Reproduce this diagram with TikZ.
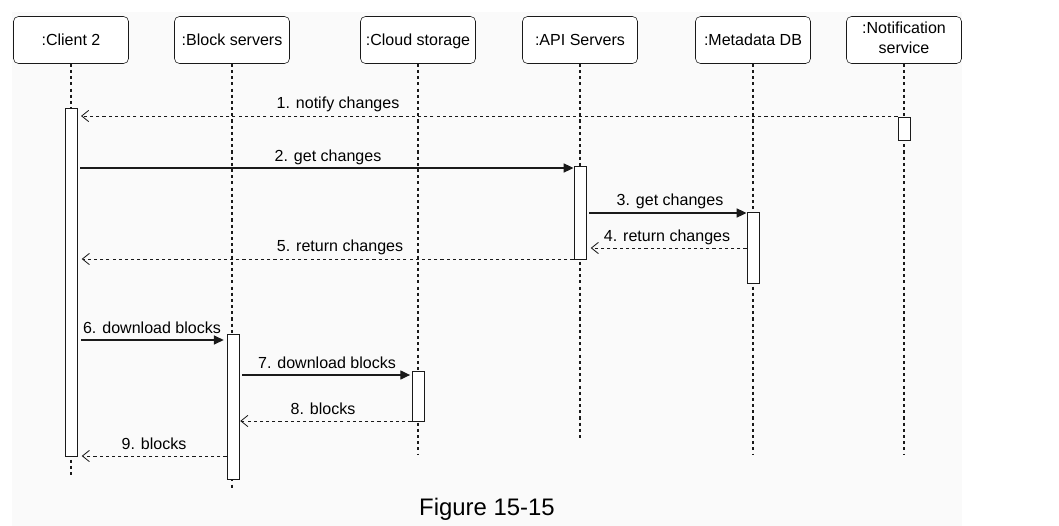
\documentclass[tikz,border=0pt]{standalone}
\usepackage{fontspec}
\setmainfont{Liberation Sans}
\usepackage{tikz}
\usetikzlibrary{positioning,arrows.meta}
\definecolor{cInk}{HTML}{1A1A1A}
\definecolor{cGrey}{HTML}{555555}
\definecolor{cBg}{HTML}{FAFAFA}
\newcommand{\capstrut}{\rule[-2.64pt]{0pt}{13.44pt}}
\tikzset{
  obj/.style={draw=cInk, rounded corners=3.5pt, fill=white, align=center,
              minimum width=2.875cm, minimum height=1.175cm, inner sep=2pt,
              font=\fontsize{11.4}{14.2}\selectfont,
              execute at begin node=\capstrut, execute at end node=\capstrut},
  bar/.style={draw=cInk, fill=white, line width=0.7pt, minimum width=0.3cm,
              inner sep=0pt, anchor=north},
  life/.style={cInk, line width=0.8pt, dash pattern=on 2.2pt off 2.2pt},
  call/.style={-{Triangle[length=7pt, width=6.5pt]}, cInk, line width=0.8pt},
  ret/.style={-{Straight Barb[length=5pt, width=8pt, line width=0.6pt]}, cInk,
              line width=0.6pt, dash pattern=on 2.2pt off 2.2pt},
  lbl/.style={font=\fontsize{11.4}{13.7}\selectfont, inner sep=0pt}
}
\begin{document}
\begin{tikzpicture}[x=0.025cm, y=-0.025cm]
\useasboundingbox (0,0) rectangle (1059,526);
\fill[cBg] (12,12) rectangle (962,526);
% objects
\node[obj] (cl) at (71,40) {:Client 2};
\node[obj] (bs) at (232,40) {:Block servers};
\node[obj] (cs) at (418,40) {:Cloud storage};
\node[obj] (api) at (580,40) {:API Servers};
\node[obj] (db) at (753,40) {:Metadata DB};
\node[obj] (ns) at (904,40) {:Notification\\service};
% lifelines
\coordinate (e1) at (0,475);\coordinate (e2) at (0,489);\coordinate (e3) at (0,454);
\coordinate (e4) at (0,441);\coordinate (e5) at (0,455);
\draw[life](cl)--(cl|-e1);\draw[life](bs)--(bs|-e2);\draw[life](cs)--(cs|-e3);
\draw[life](api)--(api|-e4);\draw[life](db)--(db|-e5);\draw[life](ns)--(ns|-e5);
% activations
\node[bar, minimum height=8.7cm] (cbar) at (71,108) {};
\node[bar, minimum height=0.575cm] (nbar) at (904,117) {};
\node[bar, minimum height=2.325cm] (abar) at (580,166) {};
\node[bar, minimum height=1.775cm] (mbar) at (753,212) {};
\node[bar, minimum height=3.625cm] (bbar) at (233,334) {};
\node[bar, minimum height=1.25cm] (sbar) at (418,371) {};
% messages
\coordinate (m1) at (0,116);\coordinate (m2) at (0,168);\coordinate (m3) at (0,213);
\coordinate (m4) at (0,248);\coordinate (m5) at (0,259);\coordinate (m6) at (0,340);
\coordinate (m7) at (0,375);\coordinate (m8) at (0,421);\coordinate (m9) at (0,456);
\draw[ret, shorten >=2.5pt](nbar.west|-m1)--(cbar.east|-m1);
\draw[call, shorten <=2pt](cbar.east|-m2)--(abar.west|-m2);
\draw[call, shorten <=2pt](abar.east|-m3)--(mbar.west|-m3);
\draw[ret, shorten >=3pt](mbar.west|-m4)--(abar.east|-m4);
\draw[ret, shorten >=3pt](abar.west|-m5)--(cbar.east|-m5);
\draw[call, shorten <=2.5pt, shorten >=2pt](cbar.east|-m6)--(bbar.west|-m6);
\draw[call, shorten <=2pt, shorten >=1pt](bbar.east|-m7)--(sbar.west|-m7);
\draw[ret, shorten >=0.5pt](sbar.west|-m8)--(bbar.east|-m8);
\draw[ret, shorten >=3pt](bbar.west|-m9)--(cbar.east|-m9);
% labels
\node[lbl] (l1) at (338,104) {1. notify changes};
\node[lbl] (l2) at (328,157) {2. get changes};
\node[lbl] (l3) at (670,201) {3. get changes};
\node[lbl] (l4) at (667,237) {4. return changes};
\node[lbl] (l5) at (340,247) {5. return changes};
\node[lbl] (l6) at (152,328) {6. download blocks};
\node[lbl] (l7) at (327,363) {7. download blocks};
\node[lbl] (l8) at (323,409) {8. blocks};
\node[lbl] (l9) at (154,444) {9. blocks};
\node[font=\fontsize{17}{20}\selectfont, inner sep=0pt] (cap) at (487,509) {Figure 15-15};
\end{tikzpicture}
\end{document}
